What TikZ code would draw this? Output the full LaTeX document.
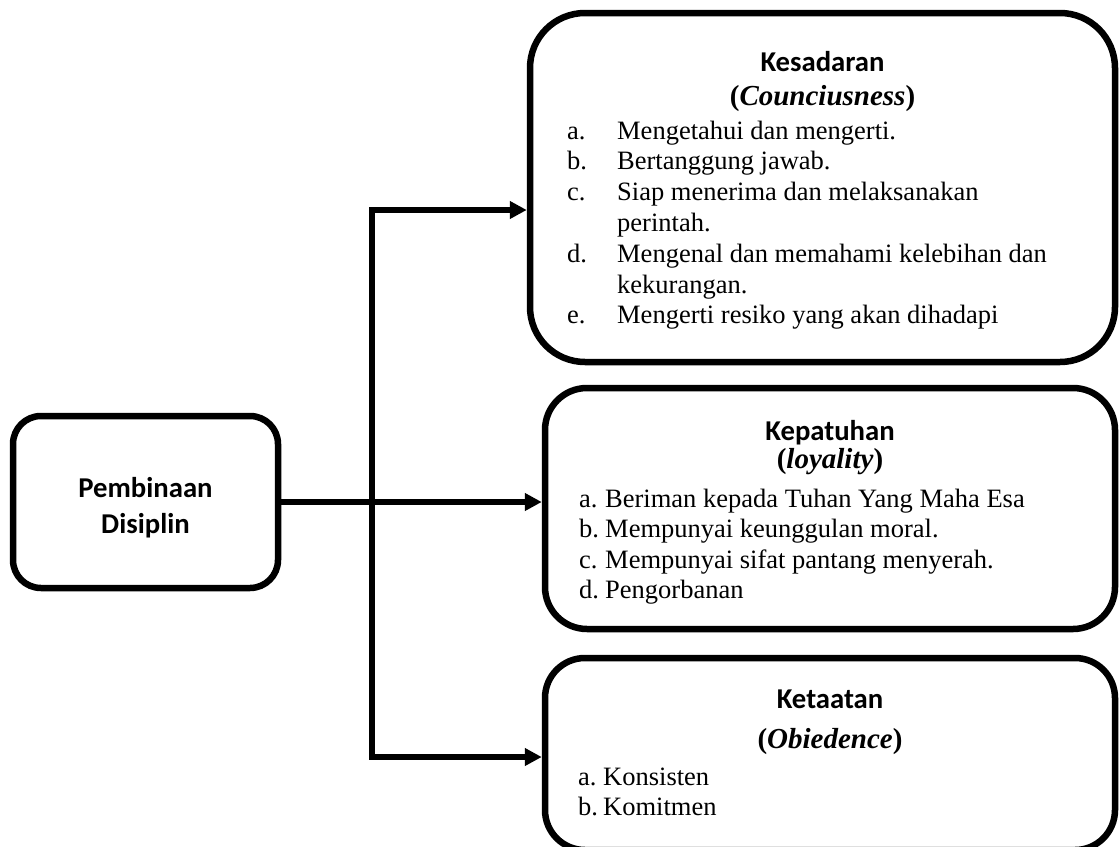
\documentclass[tikz,border=0pt]{standalone}
\usepackage{fontspec}
\setmainfont{Liberation Serif}
\newfontfamily\calibri{Carlito}
\usetikzlibrary{arrows.meta,positioning}

\newcommand{\listfont}[1]{\fontsize{26.5}{#1}\selectfont}
\newcommand{\headfont}{\calibri\bfseries\fontsize{28.7}{36}\selectfont}

\begin{document}
\begin{tikzpicture}[x=1pt,y=-1pt,
    box/.style={draw,line width=6.5pt,rounded corners=#1,inner sep=0pt},
    conn/.style={line width=6pt,->},
    >={Triangle[length=17pt,width=17pt]},
    head/.style={anchor=base,font=\headfont,inner sep=0pt},
    sub/.style={anchor=base,font=\fontsize{29}{33}\selectfont\bfseries,inner sep=0pt},
    body/.style={anchor=north west,inner sep=0pt,font=\listfont{#1}}]

    \useasboundingbox (0,0) rectangle (1119,846);

    % the boxes
    \node[box=28pt,minimum width=265pt,minimum height=172pt] (pembinaan) at (145.5,502) {};
    \node[box=55pt,minimum width=585pt,minimum height=349pt] (kesadaran) at (822.5,187.5) {};
    \node[box=42pt,minimum width=570pt,minimum height=241pt] (kepatuhan) at (830,508.5) {};
    \node[box=40pt,minimum width=570pt,minimum height=192pt] (ketaatan) at (830,754) {};

    % the texts
    \node[font=\headfont,align=center,inner sep=0pt] (pembinaanlabel)
      at ([yshift=-6pt]pembinaan.center) {Pembinaan\\Disiplin};

    \node[head] (kesadarantitle) at (822.5,71) {Kesadaran};
    \node[sub] (kesadaransub) at (822.5,105) {(\textit{Counciusness})};
    \node[body=30.8] (kesadaranlist) at (567,117.4) {%
      \begin{tabular}{@{}p{50pt}@{}l@{}}
        a. & Mengetahui dan mengerti.\\
        b. & Bertanggung jawab.\\
        c. & Siap menerima dan melaksanakan\\
           & perintah.\\
        d. & Mengenal dan memahami kelebihan dan\\
           & kekurangan.\\
        e. & Mengerti resiko yang akan dihadapi
      \end{tabular}};

    \node[head] (kepatuhantitle) at (830,440) {Kepatuhan};
    \node[sub] (kepatuhansub) at (830,468) {(\textit{loyality})};
    \node[body=30.5] (kepatuhanlist) at (579,485.6) {%
      \begin{tabular}{@{}p{26pt}@{}l@{}}
        a. & Beriman kepada Tuhan Yang Maha Esa\\
        b. & Mempunyai keunggulan moral.\\
        c. & Mempunyai sifat pantang menyerah.\\
        d. & Pengorbanan
      \end{tabular}};

    \node[head] (ketaatantitle) at (830,708) {Ketaatan};
    \node[sub] (ketaatansub) at (830,748) {(\textit{Obiedence})};
    \node[body=30] (ketaatanlist) at (578,764) {%
      \begin{tabular}{@{}p{25pt}@{}l@{}}
        a. & Konsisten\\
        b. & Komitmen
      \end{tabular}};

    % the connectors
    \coordinate (trunktop) at (372,210);
    \coordinate (trunkbot) at (372,757);
    \draw[conn] (pembinaan.east) -- (pembinaan.east -| kepatuhan.west);
    \draw[conn,<->] (trunktop -| kesadaran.west) -- (trunktop) -- (trunkbot)
      -- (trunkbot -| ketaatan.west);

\end{tikzpicture}
\end{document}
